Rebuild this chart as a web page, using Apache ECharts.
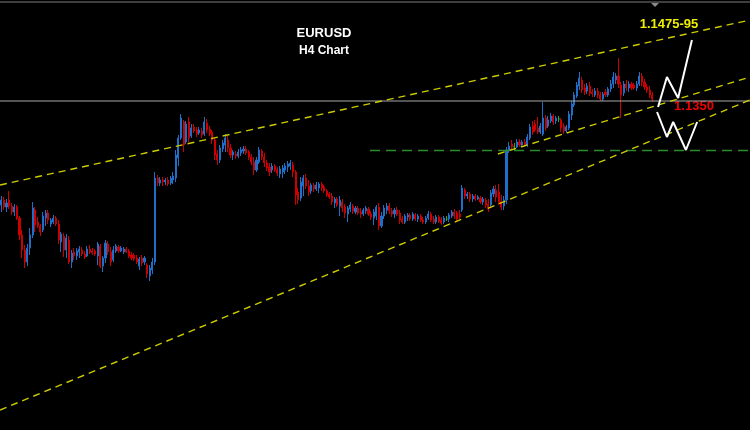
<!DOCTYPE html>
<html>
<head>
<meta charset="utf-8">
<script src="https://cdn.jsdelivr.net/npm/echarts@6/dist/echarts.min.js"></script>
<style>
html,body{margin:0;padding:0;background:#000;}
#chart{width:750px;height:430px;}
</style>
</head>
<body>
<div id="chart"></div>
<script>
// EURUSD H4 candles, prices in points (price x 10000): [open, close, low, high]
const candles = [
[11142,11152,11128,11160],[11152,11138,11132,11158],[11138,11146,11128,11154],[11152,11140,11134,11170],
[11140,11128,11122,11146],[11128,11138,11120,11144],[11138,11116,11112,11142],[11116,11082,11072,11120],
[11082,11052,11036,11092],[11052,11028,11016,11062],[11028,11056,11020,11064],[11056,11082,11042,11096],
[11082,11136,11076,11148],[11132,11102,11088,11138],[11108,11100,11096,11118],[11100,11088,11080,11104],
[11092,11120,11088,11128],[11116,11126,11100,11132],[11126,11112,11104,11132],[11104,11112,11098,11116],
[11108,11116,11104,11122],[11116,11104,11100,11120],[11104,11072,11064,11112],[11068,11084,11048,11088],
[11080,11052,11038,11086],[11052,11076,11036,11084],[11072,11028,11024,11080],[11028,11046,11016,11052],
[11048,11040,11032,11056],[11040,11050,11032,11056],[11048,11054,11036,11060],[11052,11044,11040,11058],
[11044,11038,11034,11050],[11040,11054,11038,11060],[11054,11048,11044,11062],[11050,11046,11042,11056],
[11050,11044,11040,11054],[11040,11064,11022,11068],[11060,11020,11016,11064],[11020,11036,11008,11040],
[11036,11066,11026,11072],[11064,11048,11042,11070],[11048,11028,11020,11058],[11032,11052,11028,11060],
[11050,11060,11046,11064],[11058,11050,11046,11062],[11050,11056,11048,11060],[11048,11054,11044,11058],
[11054,11048,11046,11058],[11050,11040,11036,11054],[11042,11036,11032,11048],[11042,11034,11030,11046],
[11036,11028,11024,11042],[11020,11034,11012,11038],[11036,11026,11020,11042],[11028,11036,11022,11040],
[11022,11004,10996,11026],[11000,11016,10990,11022],[11012,11028,11004,11036],[11028,11196,11022,11208],
[11196,11186,11180,11202],[11186,11192,11180,11198],[11192,11188,11180,11198],[11188,11192,11182,11196],
[11192,11184,11180,11198],[11186,11196,11182,11200],[11192,11200,11184,11208],[11196,11242,11188,11252],
[11236,11276,11220,11282],[11276,11316,11272,11324],[11308,11262,11248,11312],[11268,11304,11264,11310],
[11308,11276,11268,11318],[11280,11296,11276,11304],[11298,11290,11286,11304],[11292,11284,11278,11298],
[11286,11292,11282,11298],[11290,11282,11276,11296],[11284,11308,11280,11318],[11306,11292,11286,11314],
[11294,11284,11280,11300],[11288,11272,11264,11292],[11272,11242,11232,11276],[11244,11232,11222,11252],
[11232,11256,11226,11262],[11254,11266,11248,11272],[11262,11276,11248,11284],[11272,11256,11248,11280],
[11256,11242,11236,11264],[11242,11248,11232,11252],[11244,11240,11234,11250],[11240,11248,11236,11254],
[11246,11252,11240,11258],[11250,11254,11244,11260],[11254,11246,11242,11260],[11248,11238,11232,11252],
[11238,11228,11222,11244],[11228,11212,11202,11238],[11212,11232,11208,11238],[11228,11252,11224,11258],
[11250,11238,11232,11254],[11238,11226,11218,11246],[11226,11216,11210,11232],[11218,11208,11200,11226],
[11212,11220,11206,11226],[11220,11212,11208,11224],[11212,11206,11200,11218],[11204,11214,11196,11220],
[11208,11216,11196,11222],[11212,11220,11204,11226],[11218,11224,11208,11230],[11220,11226,11212,11232],
[11222,11208,11198,11228],[11208,11162,11142,11212],[11168,11152,11144,11176],[11156,11188,11150,11198],
[11180,11196,11160,11202],[11196,11180,11174,11204],[11180,11168,11160,11192],[11170,11182,11164,11186],
[11182,11174,11168,11186],[11174,11182,11170,11188],[11176,11184,11166,11188],[11184,11176,11170,11188],
[11178,11170,11166,11182],[11170,11162,11158,11174],[11164,11158,11154,11168],[11160,11148,11142,11166],
[11146,11154,11136,11158],[11154,11142,11138,11158],[11140,11152,11120,11160],[11148,11136,11128,11154],
[11138,11126,11116,11144],[11124,11136,11108,11140],[11134,11142,11128,11148],[11140,11130,11124,11144],
[11128,11136,11124,11140],[11136,11126,11122,11140],[11128,11124,11116,11136],[11124,11132,11120,11136],
[11130,11136,11124,11140],[11134,11124,11120,11138],[11124,11118,11112,11130],[11116,11128,11102,11134],
[11120,11138,11112,11142],[11138,11100,11092,11146],[11100,11120,11096,11128],[11120,11136,11114,11142],
[11132,11140,11124,11146],[11140,11130,11124,11146],[11130,11124,11118,11136],[11124,11132,11116,11136],
[11132,11124,11120,11138],[11126,11112,11104,11132],[11114,11108,11104,11120],[11108,11120,11104,11124],
[11118,11122,11110,11126],[11122,11114,11110,11126],[11114,11124,11110,11128],[11122,11114,11110,11126],
[11114,11120,11108,11124],[11120,11112,11108,11124],[11112,11108,11104,11118],[11108,11116,11104,11120],
[11116,11124,11112,11130],[11124,11112,11108,11128],[11114,11108,11104,11120],[11108,11118,11104,11122],
[11118,11110,11106,11122],[11112,11106,11102,11118],[11108,11116,11104,11120],[11114,11114,11110,11120],
[11114,11122,11108,11126],[11120,11128,11116,11132],[11128,11120,11114,11134],[11126,11114,11108,11130],
[11124,11118,11114,11132],[11132,11176,11128,11182],[11172,11160,11154,11176],[11160,11164,11154,11168],
[11164,11154,11148,11168],[11154,11160,11148,11164],[11160,11154,11150,11164],[11154,11158,11152,11162],
[11156,11148,11144,11160],[11148,11154,11142,11158],[11152,11142,11136,11156],[11144,11134,11128,11154],
[11142,11166,11138,11172],[11164,11174,11158,11180],[11172,11158,11148,11182],[11168,11148,11142,11184],
[11148,11138,11132,11162],[11140,11152,11132,11160],[11152,11252,11144,11258],[11252,11260,11246,11268],
[11264,11258,11254,11272],[11258,11258,11252,11266],[11258,11268,11256,11274],[11268,11262,11258,11274],
[11262,11268,11260,11272],[11268,11262,11258,11274],[11262,11278,11258,11284],[11276,11298,11272,11304],
[11300,11288,11282,11310],[11304,11292,11288,11312],[11296,11288,11284,11318],[11288,11300,11284,11306],
[11284,11316,11280,11348],[11316,11296,11290,11322],[11300,11312,11296,11320],[11310,11320,11306,11326],
[11320,11308,11302,11324],[11310,11316,11304,11320],[11314,11314,11308,11320],[11312,11296,11288,11316],
[11300,11290,11284,11306],[11290,11298,11286,11302],[11296,11324,11292,11330],[11322,11344,11312,11350],
[11342,11362,11338,11368],[11360,11382,11356,11388],[11380,11396,11372,11408],[11392,11372,11366,11398],
[11376,11368,11362,11384],[11370,11380,11364,11386],[11380,11366,11360,11388],[11368,11364,11358,11374],
[11362,11370,11358,11376],[11370,11362,11356,11376],[11362,11354,11350,11368],[11354,11364,11350,11368],
[11368,11362,11358,11374],[11362,11374,11358,11378],[11374,11384,11368,11392],[11384,11398,11376,11408],
[11392,11400,11384,11406],[11400,11384,11376,11436],[11382,11362,11316,11388],[11366,11384,11360,11390],
[11384,11376,11370,11392],[11376,11384,11368,11390],[11384,11376,11372,11388],[11382,11376,11372,11386],
[11376,11384,11370,11390],[11384,11400,11380,11408],[11400,11388,11380,11406],[11388,11378,11372,11394],
[11378,11372,11366,11384],[11372,11362,11356,11380],[11362,11354,11348,11368]
];
const POINT = 10000;
const totalSlots = 288;           // bar slots across the window (incl. empty right margin)
const categories = Array.from({length: totalSlots}, (_, i) => 'H4-' + i);

// Analysis lines: [bar position, price]
const upperChannel = [[0, 1.1182], [288, 1.1512]];
const middleChannel = [[191.2, 1.1244], [288, 1.1398]];
const lowerChannel = [[0, 1.0732], [288, 1.1352]];
const supportLevel = [[142.1, 1.1251], [288, 1.1251]];
const pivotLevel = [[0, 1.1350], [288, 1.1350]];
const bullPath = [[252.7, 1.1338], [256.1, 1.1398], [260.4, 1.1356], [265.7, 1.1472]];
const bearPath = [[252.3, 1.1328], [256.1, 1.1278], [258.5, 1.1308], [263.4, 1.1252], [267.7, 1.1308]];

const titleText = 'EURUSD';
const subTitleText = 'H4 Chart';
const targetText = '1.1475-95';
const pivotText = '1.1350';

const BLUE = '#1f6fc8', RED = '#cc0000', DOJI = '#2fa52f';
const YELLOW = '#cccc00';

const chart = echarts.init(document.getElementById('chart'), null, {renderer: 'canvas'});
const candleData = candles.map(r => r.map(v => v / POINT));

function lineSeries(data, color, width, type) {
  return {
    type: 'line', xAxisIndex: 1, yAxisIndex: 0, data: data,
    symbol: 'none', silent: true, animation: false,
    lineStyle: {color: color, width: width, type: type}
  };
}

chart.setOption({
  backgroundColor: '#000000',
  animation: false,
  grid: {left: 0, right: 0, top: 0, bottom: 0},
  xAxis: [
    {type: 'category', data: categories, boundaryGap: true, show: false},
    {type: 'value', min: 0, max: totalSlots, show: false}
  ],
  yAxis: {type: 'value', min: 1.0692, max: 1.1552, show: false, scale: true},
  series: [
    lineSeries(pivotLevel, '#a8a8a8', 1, 'solid'),
    lineSeries(supportLevel, '#2e8b2e', 1.5, [10, 6]),
    lineSeries(upperChannel, YELLOW, 1.4, [7, 5]),
    lineSeries(middleChannel, YELLOW, 1.4, [7, 5]),
    lineSeries(lowerChannel, YELLOW, 1.4, [7, 5]),
    {
      type: 'candlestick', xAxisIndex: 0, yAxisIndex: 0,
      data: candleData, barWidth: 1.6,
      itemStyle: {
        color: BLUE, color0: RED,
        borderColor: BLUE, borderColor0: RED, borderColorDoji: DOJI,
        borderWidth: 1
      }
    },
    lineSeries(bullPath, '#ffffff', 2, 'solid'),
    lineSeries(bearPath, '#ffffff', 2, 'solid')
  ],
  graphic: [
    {type: 'line', shape: {x1: 0, y1: 2, x2: 750, y2: 2}, style: {stroke: '#7c7c7c', lineWidth: 1}},
    {type: 'polygon', shape: {points: [[651, 3], [659, 3], [655, 7]]}, style: {fill: '#8a8a8a'}},
    {type: 'text', x: 324, y: 33, style: {text: titleText, fill: '#ffffff', font: 'bold 13px "Liberation Sans", Arial, sans-serif', textAlign: 'center', textVerticalAlign: 'middle'}},
    {type: 'text', x: 324, y: 51, style: {text: subTitleText, fill: '#ffffff', font: 'bold 12px "Liberation Sans", Arial, sans-serif', textAlign: 'center', textVerticalAlign: 'middle'}},
    {type: 'text', x: 669, y: 24, style: {text: targetText, fill: '#eeee00', font: 'bold 13px "Liberation Sans", Arial, sans-serif', textAlign: 'center', textVerticalAlign: 'middle'}},
    {type: 'text', x: 694, y: 106, style: {text: pivotText, fill: '#ee0000', font: 'bold 13px "Liberation Sans", Arial, sans-serif', textAlign: 'center', textVerticalAlign: 'middle'}}
  ]
});
</script>
</body>
</html>
